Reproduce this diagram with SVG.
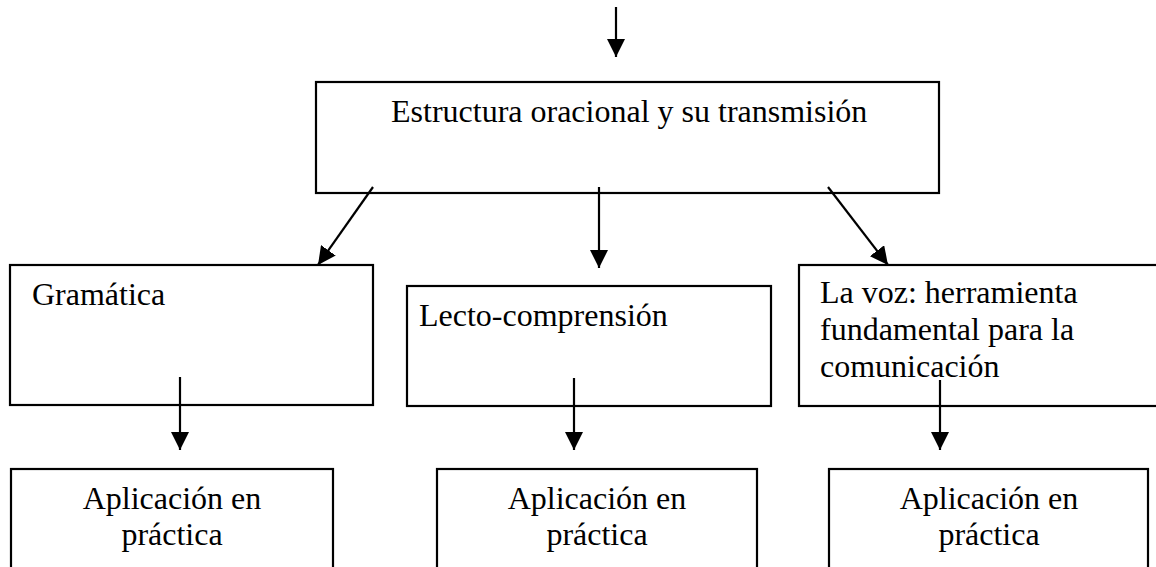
<svg xmlns="http://www.w3.org/2000/svg" width="1156" height="567" viewBox="0 0 1156 567">
<defs>
<style>
.box{fill:none;stroke:#000;stroke-width:2.2}
.lbl{font-family:"Liberation Serif","Times New Roman",serif;font-size:32px;fill:#000}
.mid{text-anchor:middle}
.con{stroke:#000;stroke-width:2.2;fill:none;marker-end:url(#ah)}
</style>
<marker id="ah" markerUnits="userSpaceOnUse" markerWidth="18" markerHeight="18" viewBox="0 0 16 16" refX="16" refY="8" orient="auto">
<path d="M0,0 L16,8 L0,16 Z" fill="#000"/>
</marker>
</defs>
<rect width="1156" height="567" fill="#fff"/>
<g id="connectors">
<line class="con" x1="616" y1="7" x2="616" y2="57"/>
<line class="con" x1="373" y1="187" x2="318" y2="265"/>
<line class="con" x1="599" y1="187" x2="599" y2="268"/>
<line class="con" x1="828" y1="187" x2="888" y2="265"/>
<line class="con" x1="180" y1="377" x2="180" y2="450"/>
<line class="con" x1="574" y1="378" x2="574" y2="450"/>
<line class="con" x1="940" y1="380" x2="940" y2="450"/>
</g>
<g id="main">
<rect class="box" x="316" y="82" width="623" height="111"/>
<text class="lbl" x="391" y="122">Estructura oracional y su transmisión</text>
</g>
<g id="gramatica">
<rect class="box" x="10" y="265" width="363" height="140"/>
<text class="lbl" x="32" y="305">Gramática</text>
</g>
<g id="lecto">
<rect class="box" x="407" y="286" width="364" height="120"/>
<text class="lbl" x="419" y="326">Lecto-comprensión</text>
</g>
<g id="voz">
<rect class="box" x="799" y="265" width="380" height="141"/>
<text class="lbl" x="820" y="303">La voz: herramienta</text>
<text class="lbl" x="820" y="340">fundamental para la</text>
<text class="lbl" x="820" y="377">comunicación</text>
</g>
<g id="aplicacion1">
<rect class="box" x="11" y="469" width="322" height="120"/>
<text class="lbl mid" x="172" y="509">Aplicación en</text>
<text class="lbl mid" x="172" y="545">práctica</text>
</g>
<g id="aplicacion2">
<rect class="box" x="437" y="469" width="320" height="120"/>
<text class="lbl mid" x="597" y="509">Aplicación en</text>
<text class="lbl mid" x="597" y="545">práctica</text>
</g>
<g id="aplicacion3">
<rect class="box" x="829" y="469" width="319" height="120"/>
<text class="lbl mid" x="989" y="509">Aplicación en</text>
<text class="lbl mid" x="989" y="545">práctica</text>
</g>
</svg>
